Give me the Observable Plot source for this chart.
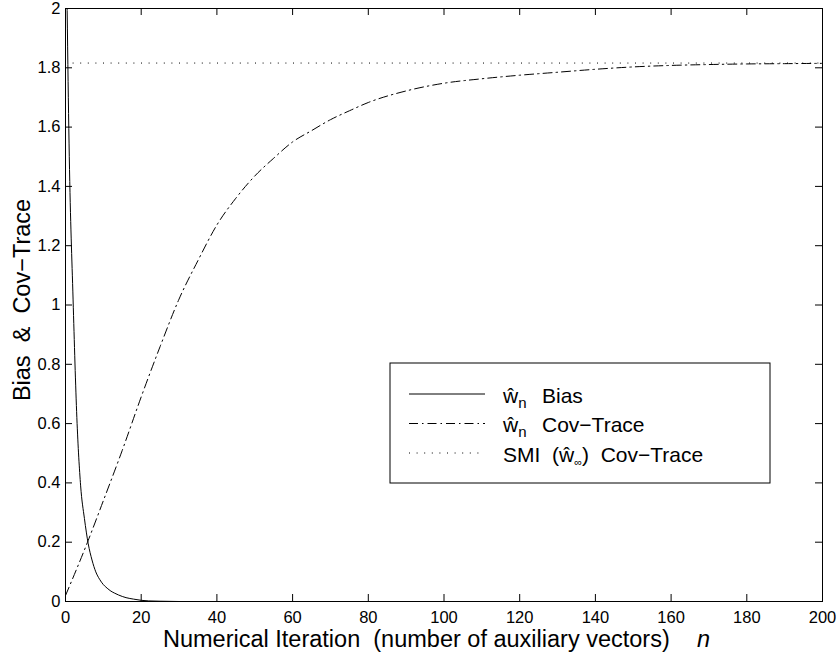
<!DOCTYPE html>
<html><head><meta charset="utf-8">
<script src="https://cdn.jsdelivr.net/npm/d3@7"></script>
<script src="https://cdn.jsdelivr.net/npm/@observablehq/plot@0.6"></script>
<style>
body{margin:0;background:#fff;}
#chart{width:839px;height:655px;}
</style>
</head><body><div id="chart"></div>
<script>
// ---- data ----
const biasN = [0, 1, 2, 3, 4, 5, 6, 7, 8, 9, 10, 11, 12, 13, 14, 15, 16, 18, 20, 22, 25, 30, 40, 60, 100, 150, 200];
const biasV = [2.45, 1.5, 1.02, 0.62, 0.39, 0.28, 0.195, 0.14, 0.10, 0.075, 0.057, 0.045, 0.035, 0.028, 0.022, 0.017, 0.013, 0.008, 0.004, 0.002, 0.001, 0, 0, 0, 0, 0, 0];
const covN = [0, 6, 10, 15, 20, 25, 30, 35, 40, 45, 50, 55, 60, 65, 70, 75, 80, 90, 100, 110, 120, 130, 140, 150, 160, 170, 180, 190, 200];
const covV = [0.02, 0.206, 0.34, 0.51, 0.69, 0.86, 1.02, 1.15, 1.27, 1.36, 1.435, 1.495, 1.55, 1.588, 1.625, 1.655, 1.683, 1.722, 1.748, 1.763, 1.775, 1.785, 1.795, 1.803, 1.808, 1.811, 1.813, 1.814, 1.815];
const smiLevel = [1.816];
const xTicks = [0, 20, 40, 60, 80, 100, 120, 140, 160, 180, 200];
const yTicks = [0, 0.2, 0.4, 0.6, 0.8, 1, 1.2, 1.4, 1.6, 1.8, 2];
const xTitle = "Numerical Iteration  (number of auxiliary vectors)";
const xTitleVar = "n";
const yTitle = "Bias  &  Cov\u2212Trace";
const legendItems = ["Bias", "Cov\u2212Trace", "Cov\u2212Trace"];

const bias = biasN.map((n, i) => ({n, v: biasV[i]}));
const cov = covN.map((n, i) => ({n, v: covV[i]}));

// ---- layout ----
const W = 839, H = 655, mL = 65, mR = 17, mT = 8, mB = 54;
const frameW = W - mL - mR, frameH = H - mT - mB, tickLen = 7;
const FONT = "'Liberation Sans', Arial, Helvetica, sans-serif";

const plot = Plot.plot({
  width: W, height: H,
  marginLeft: mL, marginRight: mR, marginTop: mT, marginBottom: mB,
  style: {fontFamily: FONT, fontSize: "16px", background: "white", color: "black", overflow: "visible"},
  x: {domain: [0, 200], label: null},
  y: {domain: [0, 2], label: null},
  marks: [
    Plot.ruleY(smiLevel, {stroke: "black", strokeWidth: 1, strokeDasharray: "1,6.6"}),
    Plot.line(cov, {x: "n", y: "v", stroke: "black", strokeWidth: 1, strokeDasharray: "9,4,1.5,4", curve: "monotone-x", clip: true}),
    Plot.line(bias, {x: "n", y: "v", stroke: "black", strokeWidth: 1, curve: "monotone-x", clip: true}),
    Plot.tickX(xTicks, {x: d => d, insetTop: frameH - tickLen, stroke: "black"}),
    Plot.tickX(xTicks, {x: d => d, insetBottom: frameH - tickLen, stroke: "black"}),
    Plot.tickY(yTicks, {y: d => d, insetRight: frameW - tickLen, stroke: "black"}),
    Plot.tickY(yTicks, {y: d => d, insetLeft: frameW - tickLen, stroke: "black"}),
    Plot.axisX(xTicks, {tickSize: 0, tickPadding: 10, label: null}),
    Plot.axisY(yTicks, {tickSize: 0, tickPadding: 5, label: null, tickFormat: d => String(+d.toFixed(1))}),
    Plot.frame({stroke: "black", strokeWidth: 1})
  ]
});
document.getElementById("chart").appendChild(plot);
// tick-label size, set on each text so nothing overrides it
plot.querySelectorAll("text").forEach(t => { t.style.fontSize = "16.5px"; });

const svg = d3.select(plot);

// x title
const xt = svg.append("text").attr("font-family", FONT).attr("font-size", 23.5).attr("fill", "black")
  .attr("text-anchor", "start").style("white-space", "pre");
xt.append("tspan").attr("x", 163).attr("y", 647).text(xTitle);
xt.append("tspan").attr("x", 697).attr("y", 647).attr("font-style", "italic").text(xTitleVar);
// y title
svg.append("text").attr("font-family", FONT).attr("font-size", 23.5).attr("fill", "black")
  .style("white-space", "pre").attr("text-anchor", "middle")
  .attr("transform", "translate(30,300) rotate(-90)").text(yTitle);

// legend
const lg = svg.append("g").attr("font-family", FONT).attr("font-size", 21).attr("fill", "black")
  .attr("text-anchor", "start").style("white-space", "pre");
lg.append("rect").attr("x", 390).attr("y", 363).attr("width", 380).attr("height", 120)
  .attr("fill", "white").attr("stroke", "black").attr("stroke-width", 1);
const rows = [
  {y: 394, base: 403, dash: null},
  {y: 423.5, base: 432, dash: "9,4,1.5,4"},
  {y: 453, base: 462, dash: "1,6.6"}
];
rows.forEach((r, i) => {
  lg.append("line").attr("x1", 409).attr("x2", 485).attr("y1", r.y).attr("y2", r.y)
    .attr("stroke", "black").attr("stroke-width", 1).attr("stroke-dasharray", r.dash);
});
// rows 1 & 2: w-hat_n label
[0, 1].forEach(i => {
  const r = rows[i];
  const t = lg.append("text").attr("x", 503).attr("y", r.base);
  t.append("tspan").text("\u0175");
  t.append("tspan").attr("dy", 5).attr("font-size", 15).text("n");
  t.append("tspan").attr("x", 542).attr("dy", -5).text(legendItems[i]);
});
// row 3: SMI (w-hat_inf) Cov-Trace
{
  const r = rows[2];
  const t = lg.append("text").attr("x", 503).attr("y", r.base);
  t.append("tspan").text("SMI  (\u0175");
  t.append("tspan").attr("dy", 4).attr("font-size", 11).text("\u221e");
  t.append("tspan").attr("dy", -4).text(")  " + legendItems[2]);
}
</script>
</body></html>
